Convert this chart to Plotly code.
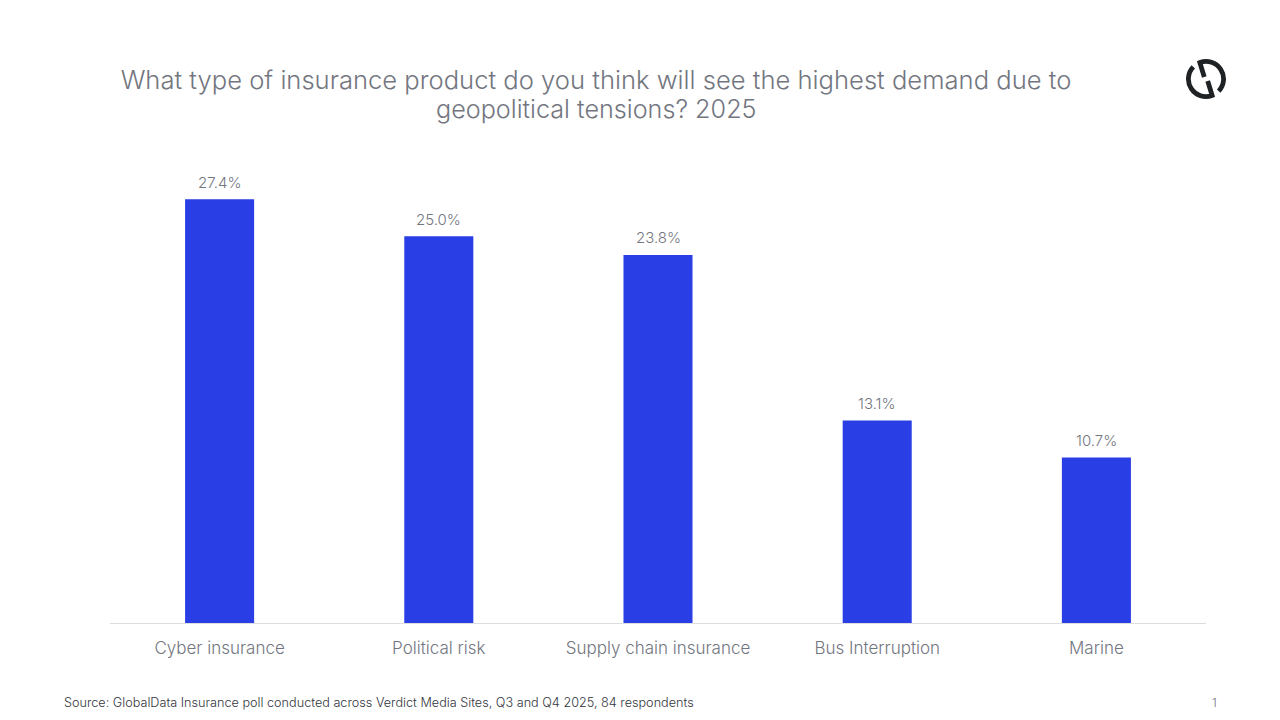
import base64
import plotly.graph_objects as go

categories = ["Cyber insurance", "Political risk", "Supply chain insurance", "Bus Interruption", "Marine"]
values = [27.4, 25.0, 23.8, 13.1, 10.7]
labels = ["27.4%", "25.0%", "23.8%", "13.1%", "10.7%"]
title_line_1 = "What type of insurance product do you think will see the highest demand due to"
title_line_2 = "geopolitical tensions? 2025"
source_text = "Source: GlobalData Insurance poll conducted across Verdict Media Sites, Q3 and Q4 2025, 84 respondents"
page_number = "1"

W, H = 1280, 720
L, R, T, B = 110, 74, 159, 97
PW, PH = W - L - R, H - T - B
FONT = "'Inter Light', Inter, sans-serif"
GREY = "#73767f"


def px(x):
    return (x - L) / PW


def py(y):
    return (H - B - y) / PH


logo_svg = (
    '<svg xmlns="http://www.w3.org/2000/svg" viewBox="0 0 40 40">'
    '<g fill="none" stroke="#1f2225" stroke-width="4.8">'
    '<path d="M7.3,7.9 A17.5,17.5 0 0 0 26.1,36.4 L21.7,22"/>'
    '<path d="M32.7,32.1 A17.5,17.5 0 0 0 13.9,3.6 L18.3,18"/>'
    '</g></svg>'
)
logo_uri = "data:image/svg+xml;base64," + base64.b64encode(logo_svg.encode()).decode()

annotations = [
    dict(text=title_line_2, xref="paper", yref="paper", x=px(596), y=py(109),
         xanchor="center", yanchor="middle", showarrow=False,
         font=dict(family=FONT, size=25.2, color=GREY, weight=300)),
    dict(text=source_text, xref="paper", yref="paper", x=px(62), y=py(702),
         xanchor="left", yanchor="middle", showarrow=False,
         font=dict(family=FONT, size=12.67, color="#33363d")),
    dict(text=page_number, xref="paper", yref="paper", x=px(1214), y=py(702),
         xanchor="center", yanchor="middle", showarrow=False,
         font=dict(family=FONT, size=12, color=GREY)),
]
for cat, val, lab in zip(categories, values, labels):
    annotations.append(dict(
        x=cat, y=val, text=lab, xref="x", yref="y", showarrow=False,
        xanchor="center", yanchor="middle", yshift=17,
        font=dict(family=FONT, size=15, color=GREY, weight=300),
    ))

fig = go.Figure(go.Bar(
    x=categories, y=values,
    marker=dict(color="#293ee5", line_width=0),
    width=0.315,
))
fig.update_layout(
    width=W, height=H, paper_bgcolor="white", plot_bgcolor="white",
    margin=dict(l=L, r=R, t=T, b=B),
    showlegend=False,
    title=dict(text=title_line_1, x=596 / W, xanchor="center", xref="container",
               y=1 - 80 / H, yanchor="middle",
               font=dict(family=FONT, size=25.6, color=GREY, weight=300)),
    xaxis=dict(showgrid=False, showline=True, linecolor="#dcdde1", linewidth=1,
               ticks="", ticklabelstandoff=10,
               tickfont=dict(family=FONT, size=17, color=GREY, weight=300)),
    yaxis=dict(range=[0, 30], visible=False),
    annotations=annotations,
    images=[dict(source=logo_uri, xref="paper", yref="paper",
                 x=px(1186), y=py(59), sizex=40 / PW, sizey=40 / PH,
                 xanchor="left", yanchor="top", sizing="contain", layer="above")],
)
fig.write_html("out.html", post_script="document.body.style.margin='0';",
               config=dict(displayModeBar=False))
